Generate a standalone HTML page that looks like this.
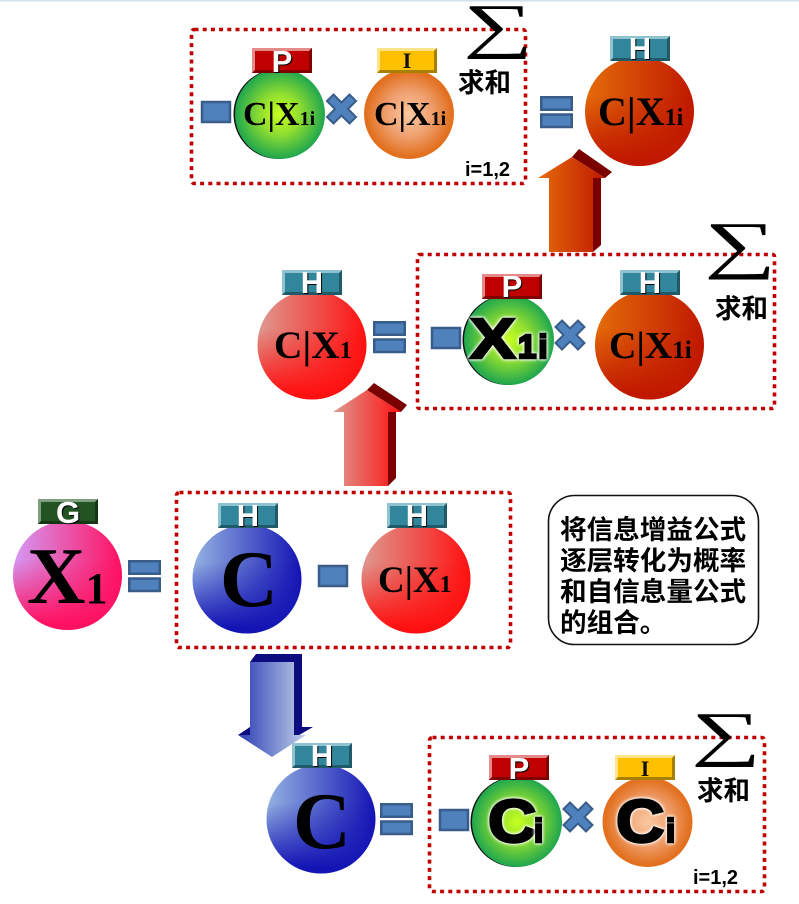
<!DOCTYPE html>
<html><head><meta charset="utf-8">
<style>
html,body{margin:0;padding:0;background:#fff}
svg{display:block}
.s{font-family:"Liberation Serif",serif;font-weight:bold;fill:#000}
.t{font-family:"Liberation Sans",sans-serif;font-weight:bold;font-size:31px;fill:#fff;text-anchor:middle;filter:drop-shadow(1px 1px 0 #000)}
.k{font-family:"Liberation Serif",serif;font-weight:bold;font-size:22px;fill:#111;text-anchor:middle}
.h{font-family:"Liberation Sans",sans-serif;font-weight:bold;fill:#000;stroke:#000;stroke-width:2.5px;paint-order:stroke;filter:drop-shadow(0 0 1.5px #fff) drop-shadow(0 0 1px #fff)}
.z{font-family:"Liberation Sans","Noto Sans CJK SC",sans-serif;font-weight:bold;fill:#000}
.g{font-family:"Liberation Serif",serif;fill:#000;font-size:76px}
.b{fill:none;stroke:#c00000;stroke-width:3.6;stroke-dasharray:4 4.2}
</style></head><body>
<svg width="799" height="904" viewBox="0 0 799 904" xmlns="http://www.w3.org/2000/svg">
<defs>
<linearGradient id="v" x1="0" y1="0" x2="0" y2="1"><stop offset=".35" stop-color="#fff" stop-opacity="0"/><stop offset=".95" stop-color="#fff"/></linearGradient>
<mask id="vm" maskContentUnits="objectBoundingBox"><rect width="1" height="1" fill="url(#v)"/></mask>
<linearGradient id="rx"><stop offset="0" stop-color="#dd9a90"/><stop offset="1" stop-color="#ff1010"/></linearGradient>
<linearGradient id="bx"><stop offset="0" stop-color="#95b3e2"/><stop offset="1" stop-color="#1414b4"/></linearGradient>
<linearGradient id="ox"><stop offset="0" stop-color="#e46c0a"/><stop offset="1" stop-color="#c01800"/></linearGradient>
<linearGradient id="px"><stop offset="0" stop-color="#d49af5"/><stop offset="1" stop-color="#ff1060"/></linearGradient>
<radialGradient id="gr"><stop offset="0" stop-color="#c6ff20"/><stop offset=".45" stop-color="#90de30"/><stop offset="1" stop-color="#1fa64e"/></radialGradient>
<radialGradient id="or"><stop offset="0" stop-color="#fac8a0"/><stop offset=".5" stop-color="#efa070"/><stop offset=".95" stop-color="#e2701f"/></radialGradient>
<linearGradient id="au"><stop offset="0" stop-color="#e46c0a"/><stop offset="1" stop-color="#c01800"/></linearGradient>
<linearGradient id="dn"><stop offset="0" stop-color="#2c3cb4"/><stop offset="1" stop-color="#c0d0e8"/></linearGradient>
<g id="eq"><rect x="1.25" y="1.25" width="30.5" height="12.5" fill="#4f81bd" stroke="#385d8a" stroke-width="2.5"/><rect x="1.25" y="18.5" width="30.5" height="12.5" fill="#4f81bd" stroke="#385d8a" stroke-width="2.5"/></g>
<rect id="mi" x="1" y="1" width="28" height="20" fill="#4f81bd" stroke="#385d8a" stroke-width="2.5"/>
<polygon id="x" points="-8,-14.5 0,-6.5 8,-14.5 14.5,-8 6.5,0 14.5,8 8,14.5 0,6.5 -8,14.5 -14.5,8 -6.5,0 -14.5,-8" fill="#4f81bd" stroke="#385d8a" stroke-width="2"/>
<g id="tb"><rect width="60" height="25" fill="#31869b"/><path d="M0 0H60L57 3H3V22L0 25Z" fill="#8fc3d0"/><path d="M60 0V25H0L3 22H57V3Z" fill="#205a68"/></g>
<g id="tp"><rect width="60" height="25" fill="#c00000"/><path d="M0 0H60L57 3H3V22L0 25Z" fill="#e58a8a"/><path d="M60 0V25H0L3 22H57V3Z" fill="#800000"/></g>
<g id="ti"><rect width="60" height="25" fill="#ffc000"/><path d="M0 0H60L57 3H3V22L0 25Z" fill="#ffe58a"/><path d="M60 0V25H0L3 22H57V3Z" fill="#a88000"/></g>
<g id="tg"><rect width="60" height="25" fill="#235322"/><path d="M0 0H60L57 3H3V22L0 25Z" fill="#7f9f7e"/><path d="M60 0V25H0L3 22H57V3Z" fill="#163715"/></g>
</defs>
<rect width="799" height="1.5" fill="#d5dfe9"/>

<!-- top group -->
<rect class="b" x="191.5" y="29.5" width="334" height="154" rx="3"/>
<text class="g" transform="translate(463,46) scale(1.29,.8)">∑</text>
<use href="#mi" x="201" y="101"/>
<circle cx="278.5" cy="114" r="45" fill="#111"/><circle cx="280" cy="114" r="45" fill="url(#gr)"/>
<use href="#tp" x="252" y="48"/><text class="t" x="282" y="72">P</text>
<text class="s" x="243" y="125" font-size="34">C|X<tspan font-size="20">1i</tspan></text>
<use href="#x" x="341.5" y="109"/>
<circle cx="409" cy="114" r="45" fill="url(#or)"/>
<use href="#ti" x="377" y="48"/><text class="k" x="407" y="68">I</text>
<text class="s" x="374" y="125" font-size="34">C|X<tspan font-size="20">1i</tspan></text>
<text class="z" x="458" y="92" font-size="26.5">求和</text>
<text class="z" x="465" y="176" font-size="20">i=1,2</text>

<use href="#eq" x="540" y="96"/>
<circle cx="639.5" cy="111.5" r="54.5" fill="url(#ox)"/>
<circle cx="639.5" cy="111.5" r="54.5" fill="#c01800" mask="url(#vm)"/>
<use href="#tb" x="610" y="36"/><text class="t" x="640" y="59">H</text>
<text class="s" x="598" y="125" font-size="40">C|X<tspan font-size="24">1i</tspan></text>

<!-- orange arrow -->
<polygon points="572,157 579,149 612,172 605,178" fill="#7a0000"/>
<polygon points="593,178 601,178 601,245 593,252" fill="#7a0000"/>
<polygon points="538,178 572,157 605,178 593,178 593,252 549,252 549,178" fill="url(#au)"/>

<!-- row 2 -->
<rect class="b" x="417.5" y="254.5" width="357" height="154" rx="2"/>
<text class="g" transform="translate(704,266) scale(1.33,.84)">∑</text>
<text class="z" x="715" y="318" font-size="26.5">求和</text>
<circle cx="312" cy="345" r="54.5" fill="url(#rx)"/>
<circle cx="312" cy="345" r="54.5" fill="#ff1010" mask="url(#vm)"/>
<use href="#tb" x="282" y="270"/><text class="t" x="312" y="293">H</text>
<text class="s" x="274" y="358" font-size="39.5">C|X<tspan font-size="24">1</tspan></text>
<use href="#eq" x="373" y="321"/>
<use href="#mi" x="431" y="327"/>
<circle cx="507.5" cy="340" r="45" fill="#111"/><circle cx="509" cy="340" r="45" fill="url(#gr)"/>
<use href="#tp" x="482" y="274"/><text class="t" x="512" y="297">P</text>
<text class="h" transform="translate(470,358) scale(1.2,1)" font-size="57">X</text>
<text class="h" x="518" y="358" font-size="33" letter-spacing="2">1i</text>
<use href="#x" x="570" y="335"/>
<circle cx="649.5" cy="345" r="54.5" fill="url(#ox)"/>
<circle cx="649.5" cy="345" r="54.5" fill="#c01800" mask="url(#vm)"/>
<use href="#tb" x="620" y="270"/><text class="t" x="650" y="293">H</text>
<text class="s" x="609" y="358" font-size="38">C|X<tspan font-size="25">1i</tspan></text>

<!-- red arrow -->
<polygon points="367,390 374,383 407,405 401,412" fill="#7a0000"/>
<polygon points="388,412 396,412 396,478 388,486" fill="#7a0000"/>
<polygon points="333,412 367,390 401,412 388,412 388,486 344,486 344,412" fill="url(#rx)"/>

<!-- row 3 -->
<rect class="b" x="176.5" y="492.5" width="334" height="155" rx="3"/>
<circle cx="67.5" cy="575.5" r="54.5" fill="url(#px)"/>
<circle cx="67.5" cy="575.5" r="54.5" fill="#ff1060" mask="url(#vm)"/>
<use href="#tg" x="38" y="499"/><text class="t" x="68" y="523">G</text>
<text class="s" x="27" y="603" font-size="81">X<tspan font-size="44">1</tspan></text>
<use href="#eq" x="128" y="560"/>
<circle cx="247" cy="579" r="54.5" fill="url(#bx)"/>
<circle cx="247" cy="579" r="54.5" fill="#1414b4" mask="url(#vm)"/>
<use href="#tb" x="218" y="503"/><text class="t" x="248" y="526">H</text>
<text class="s" x="220" y="606" font-size="80">C</text>
<use href="#mi" x="318" y="565"/>
<circle cx="416" cy="579" r="54.5" fill="url(#rx)"/>
<circle cx="416" cy="579" r="54.5" fill="#ff1010" mask="url(#vm)"/>
<use href="#tb" x="387" y="503"/><text class="t" x="417" y="526">H</text>
<text class="s" x="378" y="592" font-size="37">C|X<tspan font-size="24">1</tspan></text>

<!-- note -->
<rect x="548.5" y="495.5" width="210" height="149" rx="26" fill="#fff" stroke="#111" stroke-width="1.6"/>
<g class="z" font-size="26.6">
<text x="560" y="539">将信息增益公式</text>
<text x="560" y="570">逐层转化为概率</text>
<text x="560" y="601">和自信息量公式</text>
<text x="560" y="632">的组合。</text>
</g>

<!-- down arrow -->
<polygon points="256,654 302,654 302,727 313,727 294,738 294,662 250,662" fill="#0c0c80"/>
<polygon points="238,735 250,727 250,735" fill="#0c0c80"/>
<polygon points="250,662 294,662 294,735 306,735 272,757 238,735 250,735" fill="url(#dn)"/>

<!-- row 4 -->
<circle cx="321" cy="819" r="54.5" fill="url(#bx)"/>
<circle cx="321" cy="819" r="54.5" fill="#1414b4" mask="url(#vm)"/>
<use href="#tb" x="292" y="743"/><text class="t" x="322" y="766">H</text>
<text class="s" x="293" y="848" font-size="80">C</text>
<use href="#eq" x="380" y="803"/>
<rect class="b" x="429.5" y="737.5" width="335" height="154" rx="3"/>
<text class="g" transform="translate(691,754) scale(1.29,.8)">∑</text>
<use href="#mi" x="439" y="809"/>
<circle cx="515.5" cy="822" r="45" fill="#111"/><circle cx="517" cy="822" r="45" fill="url(#gr)"/>
<use href="#tp" x="489" y="755"/><text class="t" x="519" y="779">P</text>
<text class="h" transform="translate(488,842) scale(1.12,1)" font-size="60">C</text>
<text class="h" x="534" y="842" font-size="33">i</text>
<use href="#x" x="578" y="817"/>
<circle cx="647.5" cy="822" r="45" fill="url(#or)"/>
<use href="#ti" x="615" y="755"/><text class="k" x="645" y="776">I</text>
<text class="h" transform="translate(616,842) scale(1.12,1)" font-size="60">C</text>
<text class="h" x="666" y="842" font-size="33">i</text>
<text class="z" x="697" y="800" font-size="26.5">求和</text>
<text class="z" x="693" y="884" font-size="20">i=1,2</text>
</svg>
</body></html>
